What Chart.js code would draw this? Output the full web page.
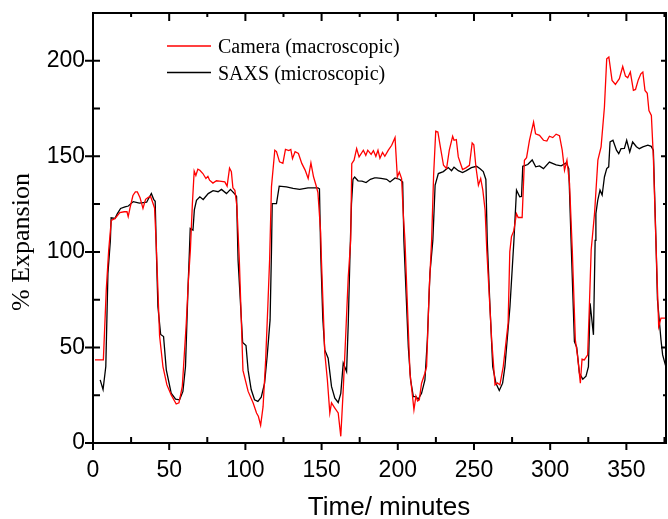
<!DOCTYPE html>
<html>
<head>
<meta charset="utf-8">
<script src="https://cdn.jsdelivr.net/npm/chart.js@4.4.1/dist/chart.umd.min.js"></script>
<style>
  html, body { margin: 0; padding: 0; background: #fff; }
  canvas { display: block; }
</style>
</head>
<body>
<canvas id="myChart" width="668" height="519" style="width:668px;height:519px"></canvas>
<script>
// camera (macroscopic) expansion
const camTime = [1.3, 6.8, 8.7, 10.3, 12.0, 14.5, 17.6, 20.5, 22.3, 23.1, 24.3, 26.2, 27.8, 29.1, 30.8, 32.8, 34.5, 36.3, 37.8, 38.9,
  40.4, 41.5, 43.7, 45.9, 48.5, 51.3, 54.6, 56.4, 58.6, 61.2, 62.6, 63.9, 65.2, 66.4, 67.5, 68.8, 70.1, 72.1, 74.1, 75.4,
  76.5, 78.7, 81, 83, 86.5, 88, 89.6, 90.8, 91.8, 93.1, 94.4, 96, 98.4, 101.8, 105.1, 107.3, 108.5, 110, 111.6, 113.3,
  114.8, 115.9, 117.1, 119.3, 120.4, 122.4, 124.6, 126.3, 128.5, 129.8, 130.9, 132.6, 134.8, 137, 139.2, 140.5, 141.2, 143, 144.7, 146.3,
  147.6, 149.4, 149.9, 152.1, 153.8, 155.4, 156.5, 158.7, 160.9, 162.6, 164.2, 165.7, 167.5, 169.1, 169.8, 171.3, 173, 174.6, 177.4, 179,
  180.3, 182.5, 184, 185.6, 187, 188.3, 190, 191.5, 193.8, 196, 198.2, 199.7, 201, 202.5, 203.6, 204.7, 208, 209.7, 210.6, 211.9,
  213, 214.1, 215.6, 217.8, 218.9, 220.6, 222.2, 223.5, 224.9, 226.3, 227.9, 230, 232, 233.8, 236, 236.9, 238.4, 239.7, 242.5, 244.9,
  247, 248.8, 249.9, 251.3, 252.9, 254.4, 255.8, 257.3, 258.4, 261.6, 263.8, 265.3, 267, 269.2, 272.4, 273.5, 274.6, 276.1, 277.9, 279,
  281.6, 283.1, 284.5, 286.4, 289.1, 290.4, 293, 295.6, 297.8, 299.5, 301.7, 303.9, 306.1, 307.9, 309.4, 311, 312.7, 314.5, 316.5, 318,
  319.8, 320.9, 322.4, 324.6, 325.7, 326.9, 329.1, 331.3, 333.4, 335.6, 337.1, 338.5, 340.6, 342.8, 345.4, 347.6, 349.4, 350.9, 352.6, 354.6,
  356, 357.8, 359.5, 360.8, 362.2, 363.7, 364.8, 366.4, 367.7, 369.2, 371.2, 372.7, 376];
const camExp = [43.5, 43.5, 80, 101, 116.5, 117.5, 120.5, 121, 121, 118.5, 123, 129.5, 131.4, 131.4, 128.5, 122.8, 127.5, 128.5, 129, 126.5,
  123, 104, 56, 40, 30.4, 25.2, 20.4, 21, 29.6, 62.7, 85, 101, 125, 142.3, 140, 143.3, 142.7, 141, 138.4, 139.5,
  137.5, 136, 137.2, 137, 136.6, 134.4, 143.8, 142, 133.5, 132.2, 124, 96, 38, 27, 20.9, 15.7, 14, 9.3, 19, 43.5,
  73, 96, 134, 153.2, 152.5, 147.1, 146.3, 153.6, 153, 153.6, 148.8, 152.4, 151.5, 146.3, 142.8, 140, 138.4, 146.6, 139.3, 135,
  131, 110, 95.7, 47, 33, 15.7, 21, 18.3, 15.7, 3.5, 27.8, 54, 87, 106, 146.2, 148, 154, 149.7, 153.2, 150.5,
  153.2, 151, 153, 150, 153.2, 149, 152, 150, 153.2, 155.8, 159.8, 139.2, 141.8, 138.4, 120, 106, 36.5, 24.3, 17.4, 24.5,
  22, 22.6, 31.3, 36.5, 40, 80, 106, 140, 163.2, 162.8, 155.1, 145.3, 143.6, 153.2, 160.5, 158.4, 158.8, 149.7, 143.1, 144.1,
  145.3, 157, 156, 144.3, 134.9, 138.4, 132.3, 121.8, 101, 54, 30.4, 31.5, 30.4, 40, 62.7, 100, 108, 111, 120, 118,
  118, 147.9, 149.3, 158.4, 167.9, 161.8, 161, 158.4, 158, 160.5, 159.8, 161.6, 160.8, 153.2, 142.7, 148, 135.8, 101, 54, 45.2,
  31.3, 43.9, 43.5, 46.1, 71.3, 101, 120, 148, 155, 175.8, 201, 202, 189.7, 187.6, 190.6, 197, 192, 191.1, 194.1, 184.5,
  185, 190, 193.2, 194.1, 184.5, 183, 174, 171.4, 149.7, 110, 60.9, 65.3, 65.3];

// SAXS (microscopic) expansion
const saxsTime = [4.7, 6.6, 8.4, 9.8, 11.4, 11.9, 14.4, 16, 18.1, 21, 23.2, 26.4, 30.4, 33, 35.2, 36.4, 38.3, 39.8, 40.8, 41.6,
  42.6, 44.4, 46.3, 48.1, 51.3, 54.2, 56.8, 59, 60.7, 62.3, 63.3, 63.8, 65.6, 66.5, 67.9, 70.1, 72.3, 75.6, 78.8, 82.1,
  84.3, 87.6, 90.2, 93.1, 94.2, 95.2, 98.2, 100.4, 101.8, 103.8, 106, 108.2, 110.4, 112.6, 114.3, 116.2, 117.1, 117.6, 120.4, 122.2,
  126.9, 131.3, 135.6, 141.1, 147.6, 148.6, 149.4, 150.8, 152.1, 154.3, 156.5, 158.7, 160.9, 162.6, 164.2, 166.4, 167.5, 168.6, 169.6, 170.6,
  171.7, 173.9, 176.5, 179.2, 182, 184.8, 186.1, 189, 192.7, 194.9, 198.2, 201.4, 203.2, 204, 206.9, 208.4, 210.2, 211.9, 213.4, 215.6,
  217.8, 219.4, 221.1, 223, 224.5, 226.6, 229.9, 233.1, 235.3, 236.9, 239.7, 242.5, 245, 248.3, 251.7, 254, 256.1, 257.8, 258.7, 260.5,
  262.3, 264.4, 266.6, 268.8, 270.3, 273.6, 276.2, 277.9, 280, 281.2, 282, 285.3, 288.2, 290.5, 293, 295.6, 299.5, 303.9, 307.2, 310.5,
  312.2, 313.7, 315.9, 317.4, 319.2, 321.4, 323.5, 325.1, 326.2, 328.4, 329.5, 330, 331.2, 332.7, 334.1, 335.6, 337.1, 338.4, 339.3, 341.2,
  343.5, 345, 346.5, 348.7, 350.2, 352.2, 354.1, 356.6, 358.5, 360.8, 364.1, 366.3, 367.7, 369.4, 370.4, 372.7, 373.8, 375.9];
const saxsExp = [33, 28, 40, 88.8, 106, 117.8, 117.5, 120, 122.7, 123.5, 124, 126.3, 125.5, 125.8, 126, 127.8, 130.5, 127.5, 126.5, 100,
  71.3, 56.8, 55.7, 38.3, 26.1, 23, 22.6, 27, 40, 80, 101, 112.3, 111.4, 122, 127, 128.8, 127.4, 130.5, 132, 131.5,
  132.7, 130.5, 132.7, 130.2, 129, 95.7, 52.6, 51, 38, 28, 22.6, 21.8, 24, 31.3, 45.5, 64.4, 100, 125.3, 125.3, 134.4,
  134, 133.2, 132.7, 133.5, 133.5, 133, 100, 65, 48.7, 44.4, 29.6, 23.5, 21.2, 26, 41.8, 37.4, 62.7, 97.4, 125, 138,
  139.2, 137.2, 137, 136.3, 138, 138.7, 138.7, 138.5, 138, 136.6, 138.7, 137.9, 136.6, 106, 50.4, 33, 24.3, 24.3, 22.9, 26,
  33, 54, 88.8, 106, 135, 141, 142, 144.1, 142.5, 144.3, 142.5, 141.5, 142.5, 144.1, 144.8, 143.5, 142, 137.9, 106, 71.3,
  40, 31.3, 27.5, 31.3, 40, 71.3, 106, 132.3, 128.8, 129, 144.8, 145.7, 148.1, 144.5, 145, 143.6, 147, 145.5, 145, 146.6,
  143.6, 106, 53, 50.1, 36.5, 33.4, 35, 40, 73.1, 56.6, 106, 120, 127, 132.3, 129.7, 139.2, 143.6, 144.5, 157.5, 158.4,
  153.2, 151.4, 154, 154.1, 158.4, 152.3, 157.5, 155, 154, 154.9, 155.8, 155.2, 153.2, 106, 75, 54, 46.1, 40];

const xTicks = [0, 50, 100, 150, 200, 250, 300, 350];
const yTicks = [0, 50, 100, 150, 200];
const seriesNames = ['Camera (macroscopic)', 'SAXS (microscopic)'];
const seriesColors = ['#ff0000', '#000000'];
const xTitle = 'Time/ minutes';
const yTitle = '% Expansion';

const toPoints = (ts, vs) => ts.map((t, i) => ({ x: t, y: vs[i] }));

// frame with inward ticks (Origin style), axis titles and legend
const framePlugin = {
  id: 'frame',
  afterDraw(chart) {
    const { ctx, chartArea: a, scales } = chart;
    const x = scales.x, y = scales.y;
    ctx.save();
    ctx.strokeStyle = '#000';
    ctx.lineWidth = 2;
    ctx.strokeRect(a.left, a.top, a.right - a.left, a.bottom - a.top);
    ctx.beginPath();
    for (let v = 0; v <= x.max; v += 25) {
      const px = x.getPixelForValue(v);
      const major = v % 50 === 0;
      ctx.moveTo(px, a.bottom - (major ? 0 : 6));
      ctx.lineTo(px, a.bottom + (major ? 7 : 0));
      ctx.moveTo(px, a.top);
      ctx.lineTo(px, a.top + (major ? 8 : 4));
    }
    for (let v = 0; v <= y.max; v += 25) {
      const py = y.getPixelForValue(v);
      const major = v % 50 === 0;
      ctx.moveTo(a.left - (major ? 8 : 0), py);
      ctx.lineTo(a.left + 7, py);
      ctx.moveTo(a.right, py);
      ctx.lineTo(a.right - (major ? 5 : 3), py);
    }
    ctx.stroke();

    ctx.fillStyle = '#000';
    ctx.textAlign = 'center';
    ctx.textBaseline = 'middle';
    // x axis title
    ctx.font = '26px "Liberation Sans", Arial, sans-serif';
    ctx.fillText(xTitle, 389, 508);
    // y axis title
    ctx.save();
    ctx.translate(22, 242);
    ctx.rotate(-Math.PI / 2);
    ctx.font = '26px "Liberation Serif", "Times New Roman", serif';
    ctx.fillText(yTitle, 0, 0);
    ctx.restore();

    // legend
    ctx.font = '20px "Liberation Serif", "Times New Roman", serif';
    ctx.textBaseline = 'alphabetic';
    ctx.textAlign = 'left';
    chart.data.datasets.forEach((ds, i) => {
      const ly = 46 + i * 26.5;
      ctx.strokeStyle = ds.borderColor;
      ctx.lineWidth = 1.3;
      ctx.beginPath();
      ctx.moveTo(167, ly);
      ctx.lineTo(211, ly);
      ctx.stroke();
      ctx.fillText(ds.label, 218, ly + 7);
    });
    ctx.restore();
  }
};

new Chart(document.getElementById('myChart'), {
  type: 'line',
  data: {
    datasets: [
      { label: seriesNames[0], data: toPoints(camTime, camExp), borderColor: seriesColors[0], borderWidth: 1.3, pointRadius: 0, tension: 0, fill: false },
      { label: seriesNames[1], data: toPoints(saxsTime, saxsExp), borderColor: seriesColors[1], borderWidth: 1.3, pointRadius: 0, tension: 0, fill: false }
    ]
  },
  options: {
    responsive: false,
    animation: false,
    devicePixelRatio: 1,
    layout: { padding: { top: 13, right: 2, left: 0, bottom: 0 } },
    plugins: { legend: { display: false }, tooltip: { enabled: false } },
    scales: {
      x: {
        type: 'linear', min: 0, max: 376,
        afterBuildTicks: (s) => { s.ticks = xTicks.map(v => ({ value: v })); },
        afterFit: (s) => { s.height = 76; s.paddingLeft = 0; s.paddingRight = 0; },
        grid: { display: false, drawTicks: false },
        border: { display: false },
        ticks: { padding: 14, color: '#000', font: { family: '"Liberation Sans", Arial, sans-serif', size: 23 }, maxRotation: 0 }
      },
      y: {
        type: 'linear', min: 0, max: 225,
        afterBuildTicks: (s) => { s.ticks = yTicks.map(v => ({ value: v })); },
        afterFit: (s) => { s.width = 93; s.paddingTop = 0; s.paddingBottom = 0; },
        grid: { display: false, drawTicks: false },
        border: { display: false },
        ticks: { padding: 8, color: '#000', font: { family: '"Liberation Sans", Arial, sans-serif', size: 23 } }
      }
    }
  },
  plugins: [framePlugin]
});
</script>
</body>
</html>
